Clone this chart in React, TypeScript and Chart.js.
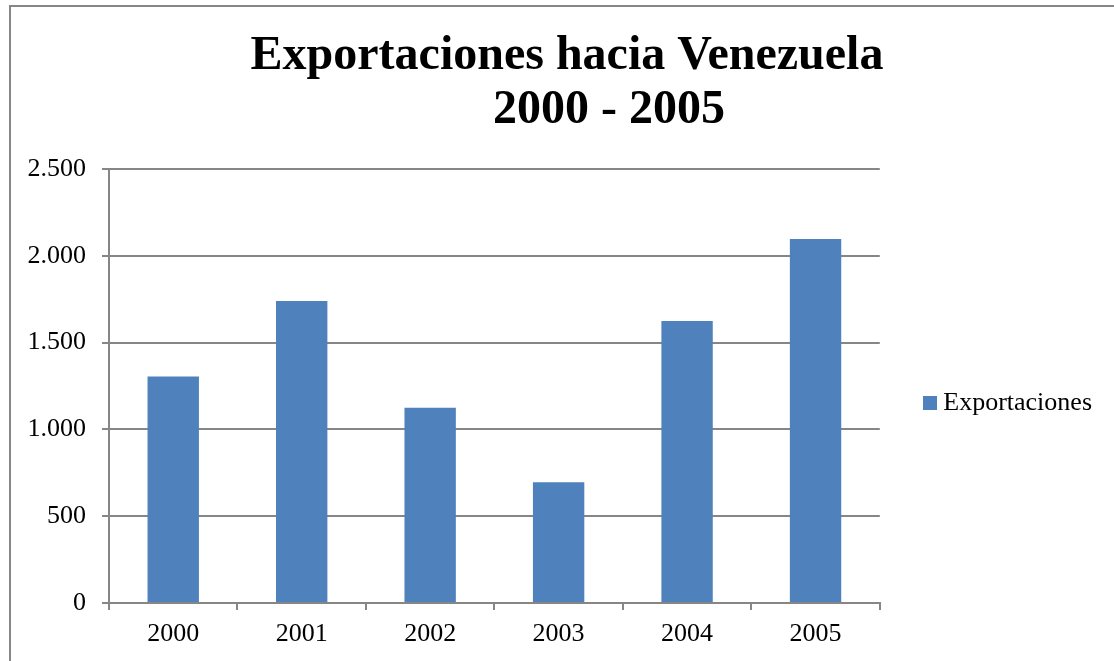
import React, { useEffect, useRef } from "react";
import { Chart, registerables } from "chart.js";

Chart.register(...registerables);

const categories: string[] = ["2000", "2001", "2002", "2003", "2004", "2005"];
const seriesName = "Exportaciones";
const exportValues: number[] = [1305, 1740, 1125, 695, 1625, 2097];
const yTickValues: number[] = [0, 500, 1000, 1500, 2000, 2500];
const titleLines: string[] = ["Exportaciones hacia Venezuela", "       2000 - 2005"];

const BAR_COLOR = "#4F81BD";
const GRID_COLOR = "#868686";
const FONT = "'Liberation Serif', 'Times New Roman', serif";

const fmt = (v: number) => String(v).replace(/\B(?=(\d{3})+(?!\d))/g, ".");

// lets the y tick labels draw a little left of the axis box (no clipping)
const unclipYLabels = {
  id: "unclipYLabels",
  afterLayout(chart: any) {
    const y = chart.scales.y;
    if (y) y.left = 0;
  },
};

export default function App() {
  const ref = useRef<HTMLCanvasElement | null>(null);

  useEffect(() => {
    if (!ref.current) return;
    const sq = document.createElement("canvas");
    sq.width = 14;
    sq.height = 14;
    const sctx = sq.getContext("2d");
    if (sctx) {
      sctx.fillStyle = BAR_COLOR;
      sctx.fillRect(0, 0, 14, 14);
    }
    const chart = new Chart(ref.current, {
      type: "bar",
      data: {
        labels: categories,
        datasets: [
          {
            label: seriesName,
            data: exportValues,
            backgroundColor: BAR_COLOR,
            borderWidth: 0,
            barPercentage: 0.4,
            categoryPercentage: 1.0,
          },
        ],
      },
      plugins: [unclipYLabels],
      options: {
        animation: false,
        responsive: false,
        devicePixelRatio: 1,
        layout: { padding: { left: 21, right: 21, top: 0, bottom: 0 } },
        plugins: {
          title: {
            display: true,
            text: titleLines,
            color: "#000",
            font: { family: FONT, size: 48, weight: "bold", lineHeight: 1.117 },
            padding: { top: 23, bottom: 31.8 },
          },
          legend: {
            display: true,
            position: "right",
            align: "center",
            labels: {
              color: "#000",
              font: { family: FONT, size: 26 },
              usePointStyle: true,
              pointStyle: sq as any,
              pointStyleWidth: 1,
              boxHeight: 14,
              padding: 49.5,
            },
          },
          tooltip: { enabled: false },
        },
        scales: {
          x: {
            grid: {
              display: true,
              offset: true,
              drawOnChartArea: false,
              drawTicks: true,
              tickLength: 7,
              color: GRID_COLOR,
              lineWidth: 2,
            },
            border: { display: true, color: GRID_COLOR, width: 2 },
            ticks: { color: "#000", font: { family: FONT, size: 26 }, padding: 9 },
            afterFit: (scale: any) => {
              scale.height = 196;
            },
          },
          y: {
            min: 0,
            max: 2500,
            afterBuildTicks: (scale: any) => {
              scale.ticks = yTickValues.map((v) => ({ value: v }));
            },
            grid: {
              color: GRID_COLOR,
              lineWidth: 2,
              drawTicks: true,
              tickLength: 7,
            },
            border: { display: true, color: GRID_COLOR, width: 2 },
            ticks: {
              color: "#000",
              font: { family: FONT, size: 26 },
              padding: 16,
              callback: (v: any) => fmt(Number(v)),
            },
            afterFit: (scale: any) => {
              scale.width = 77;
            },
          },
        },
      },
    });
    return () => chart.destroy();
  }, []);

  return (
    <div
      style={{
        position: "fixed",
        left: 0,
        top: 0,
        width: 1114,
        height: 661,
        overflow: "hidden",
        background: "#fff",
      }}
    >
      <div
        style={{
          position: "absolute",
          left: 9,
          top: 5,
          width: 1112,
          height: 792,
          borderLeft: `2px solid ${GRID_COLOR}`,
          borderTop: `2px solid ${GRID_COLOR}`,
        }}
      >
        <canvas ref={ref} width={1112} height={792} style={{ width: 1112, height: 792, display: "block" }} />
      </div>
    </div>
  );
}
